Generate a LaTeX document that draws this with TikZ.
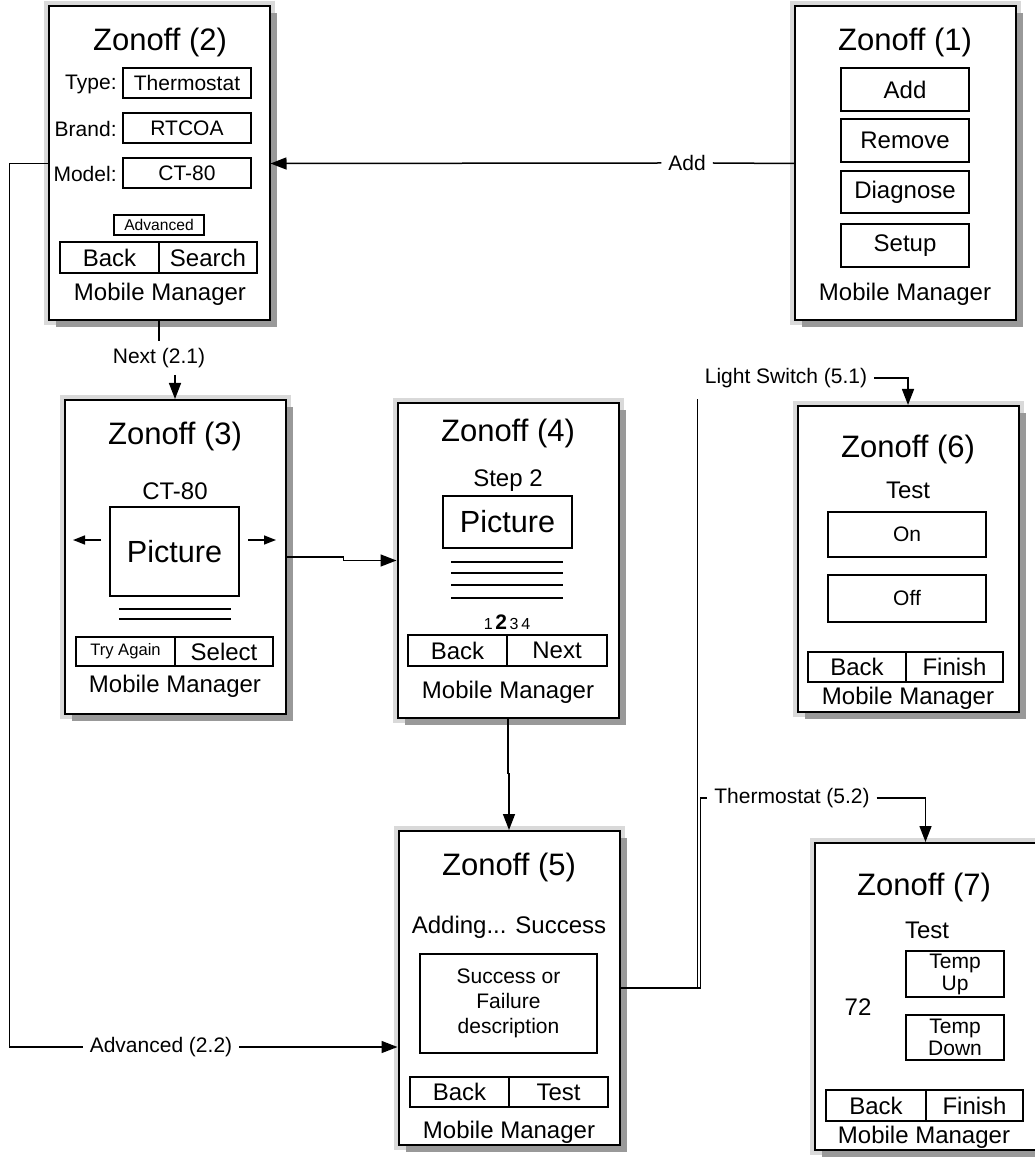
\documentclass[tikz,border=0pt]{standalone}
\usepackage{fontspec}
\setmainfont{Liberation Sans}
\usetikzlibrary{arrows.meta,shadows}

\tikzset{
  screen/.style={preaction={draw=black!15,line width=5pt},
    general shadow={fill=black!40,shadow xshift=3.5pt,shadow yshift=-3.5pt},
    draw,line width=1pt,fill=white,inner sep=0pt,
    minimum width=110.5pt,minimum height=157pt},
  ttl/.style={font=\fontsize{15.5}{18}\selectfont},
  txt/.style={font=\fontsize{12}{14}\selectfont},
  sml/.style={font=\fontsize{10.5}{12}\selectfont},
  fld/.style={draw,line width=0.75pt,inner sep=0pt,font=\fontsize{10.5}{12}\selectfont},
  btn/.style={draw,line width=0.75pt,inner sep=0pt,minimum height=15pt,font=\fontsize{12}{14}\selectfont},
  conn/.style={line width=0.75pt},
  arr/.style={conn,-{Triangle[length=8pt,width=6pt]}},
  tiny arr/.style={line width=0.75pt,-{Triangle[length=6pt,width=4.5pt]}},
}

\begin{document}
\begin{tikzpicture}[x=0.5pt,y=-0.5pt]
\useasboundingbox (0,0) rectangle (1034,1165);

% screens
\node[screen] (s1) at (905.5,163.5) {};
\node[screen] (s2) at (159,163.5) {};
\node[screen] (s3) at (175,557) {};
\node[screen] (s4) at (508,560.5) {};
\node[screen] (s5) at (509,988) {};
\node[screen,minimum height=153pt] (s6) at (908,559) {};
\node[screen,minimum height=153.5pt] (s7) at (925.5,996.5) {};

% Zonoff (1)
\node[ttl] (t1) at (905,42) {Zonoff (1)};
\node[btn,minimum width=64pt,minimum height=21.5pt] (b1add) at (905,89.5) {Add};
\node[btn,minimum width=64pt,minimum height=21.5pt] (b1rem) at (905,140.5) {Remove};
\node[btn,minimum width=64pt,minimum height=21pt] (b1dia) at (905,192) {Diagnose};
\node[btn,minimum width=64pt,minimum height=21.5pt] (b1set) at (905,245.5) {Setup};
\node[txt] (mm1) at (905,294) {Mobile Manager};

% Zonoff (2)
\node[ttl] (t2) at (160,42) {Zonoff (2)};
\node[sml,anchor=east,inner sep=0pt] (l2type) at (117,84) {Type:};
\node[sml,anchor=east,inner sep=0pt] (l2brand) at (117,129) {Brand:};
\node[sml,anchor=east,inner sep=0pt] (l2model) at (117,174) {Model:};
\node[fld,minimum width=64pt,minimum height=15pt] (f2type) at (187,83) {Thermostat};
\node[fld,minimum width=64pt,minimum height=15pt] (f2brand) at (187,128) {RTCOA};
\node[fld,minimum width=64pt,minimum height=15pt] (f2model) at (187,173) {CT-80};
\node[fld,minimum width=45pt,minimum height=10pt,font=\fontsize{7.8}{9}\selectfont] (b2adv) at (159,225) {Advanced};
\node[btn,minimum width=49.5pt,minimum height=15.5pt] (b2back) at (109.5,257.5) {Back};
\node[btn,minimum width=49pt,minimum height=15.5pt] (b2search) at (208,257.5) {Search};
\node[txt] (mm2) at (160,294) {Mobile Manager};

% Zonoff (3)
\node[ttl] (t3) at (175,436) {Zonoff (3)};
\node[txt] (m3) at (175,491) {CT-80};
\node[fld,minimum width=64.5pt,minimum height=44.5pt,font=\fontsize{15.3}{18}\selectfont] (pic3) at (174.5,551.5) {Picture};
\draw[tiny arr] (101,540) -- (73,540);
\draw[tiny arr] (248,540) -- (276,540);
\draw[line width=1pt] (119,609) -- (231,609);
\draw[line width=1pt] (119,619) -- (231,619);
\node[btn,minimum width=49.5pt,minimum height=14.5pt,font=\fontsize{8.3}{10}\selectfont] (b3try) at (125.5,651.5) {Try Again};
\node[btn,minimum width=49pt,minimum height=14.5pt] (b3sel) at (224,651.5) {Select};
\node[txt] (mm3) at (175,686) {Mobile Manager};

% Zonoff (4)
\node[ttl] (t4) at (508,433.5) {Zonoff (4)};
\node[txt] (m4) at (508,481) {Step 2};
\node[fld,minimum width=64.5pt,minimum height=26pt,font=\fontsize{15.3}{18}\selectfont] (pic4) at (507.5,522) {Picture};
\foreach \y in {562,573,585,598}
  \draw[line width=1.2pt] (451,\y) -- (563,\y);
\node[font=\fontsize{8}{10}\selectfont] (pg4) at (507,622) {1\,{\fontsize{10.5}{12}\selectfont\bfseries 2}\,3\,4};
\node[btn,minimum width=49.5pt,minimum height=15.5pt] (b4back) at (457.5,650.5) {Back};
\node[btn,minimum width=50pt,minimum height=15.5pt] (b4next) at (557,650.5) {Next};
\node[txt] (mm4) at (508,692) {Mobile Manager};

% Zonoff (5)
\node[ttl] (t5) at (509,867.5) {Zonoff (5)};
\node[txt] (m5) at (509,927) {Adding... Success};
\node[fld,minimum width=88.5pt,minimum height=49.5pt,align=center,font=\fontsize{10.5}{12.5}\selectfont] (d5) at (508.5,1003.5) {Success or\\Failure\\description};
\node[btn,minimum width=49.5pt,minimum height=15pt] (b5back) at (459.5,1092) {Back};
\node[btn,minimum width=49.5pt,minimum height=15pt] (b5test) at (558.5,1092) {Test};
\node[txt] (mm5) at (509,1132) {Mobile Manager};

% Zonoff (6)
\node[ttl] (t6) at (908,449) {Zonoff (6)};
\node[txt] (m6) at (908,490) {Test};
\node[fld,minimum width=79pt,minimum height=22.5pt] (b6on) at (907,534.5) {On};
\node[fld,minimum width=79pt,minimum height=23.5pt] (b6off) at (907,598.5) {Off};
\node[btn,minimum width=49pt,minimum height=15pt] (b6back) at (857,667) {Back};
\node[btn,minimum width=48.5pt,minimum height=15pt] (b6fin) at (954.5,667) {Finish};
\node[txt] (mm6) at (908,698) {Mobile Manager};

% Zonoff (7)
\node[ttl] (t7) at (924,887.5) {Zonoff (7)};
\node[txt] (m7) at (927,930.5) {Test};
\node[txt] (v7) at (858,1007) {72};
\node[fld,minimum width=49pt,minimum height=23pt,align=center,font=\fontsize{10.5}{11}\selectfont] (b7up) at (955,974) {Temp\\Up};
\node[fld,minimum width=49pt,minimum height=22.5pt,align=center,font=\fontsize{10.5}{11}\selectfont] (b7down) at (955,1037.5) {Temp\\Down};
\node[btn,minimum width=50pt,minimum height=15.5pt] (b7back) at (876,1105.5) {Back};
\node[btn,minimum width=48.5pt,minimum height=15.5pt] (b7fin) at (974.5,1105.5) {Finish};
\node[txt] (mm7) at (924,1137) {Mobile Manager};

% transitions
\node[sml] (addl) at (687,163) {Add};
\draw[conn] (s1.west) -- (addl.east);
\draw[arr] (addl.west) -- (s2.east);

\node[sml] (nextl) at (159,358) {Next (2.1)};
\draw[conn] (s2.south) -- (nextl.north);
\draw[arr] (nextl.south -| s3.north) -- (s3.north);

\node[sml] (advl) at (161,1047) {Advanced (2.2)};
\draw[conn] (s2.west) -- ++(-38,0) |- (advl.west);
\draw[arr] (advl.east) -- (advl.east -| s5.west);

\draw[arr] (s3.east) -- ++(57,0) |- (s4.west);
\draw[arr] (s4.south) -- ++(0,55) -| (s5.north);

\node[sml] (lswl) at (786,378) {Light Switch (5.1)};
\node[sml] (thml) at (792,798) {Thermostat (5.2)};
\draw[conn] (s5.east) -- ++(77,0) -- ++(0,-589);
\draw[conn] (s5.east) -- ++(80,0) |- (thml.west);
\draw[arr] (lswl.east) -| (s6.north);
\draw[arr] (thml.east) -| (s7.north);

\end{tikzpicture}
\end{document}
